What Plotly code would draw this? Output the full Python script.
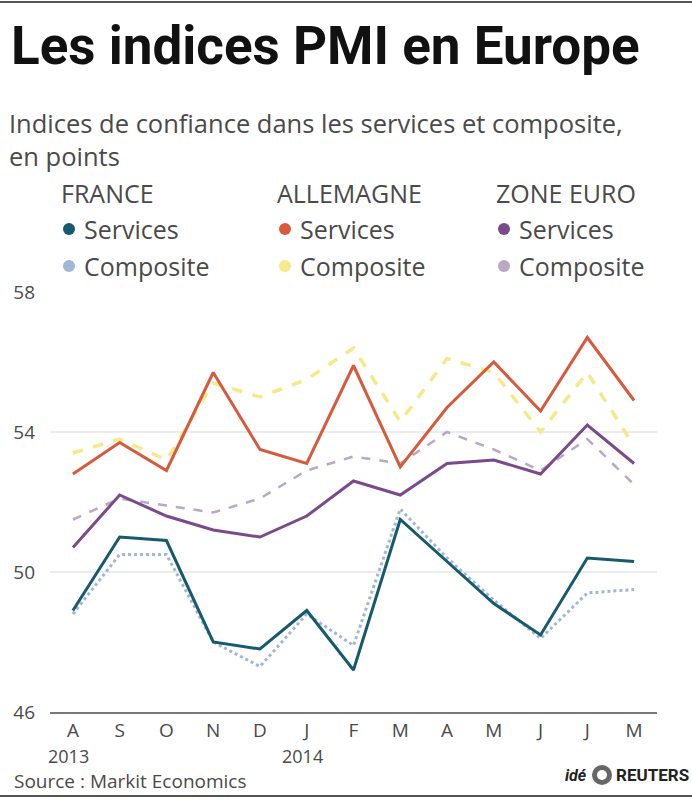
import plotly.graph_objects as go

months = ["A", "S", "O", "N", "D", "J", "F", "M", "A", "M", "J", "J", "M"]
years = {0: "2013", 5: "2014"}

fr_services = [48.9, 51.0, 50.9, 48.0, 47.8, 48.9, 47.2, 51.5, 50.3, 49.1, 48.2, 50.4, 50.3]
fr_composite = [48.8, 50.5, 50.5, 48.0, 47.3, 48.8, 47.9, 51.8, 50.4, 49.2, 48.1, 49.4, 49.5]
de_services = [52.8, 53.7, 52.9, 55.7, 53.5, 53.1, 55.9, 53.0, 54.7, 56.0, 54.6, 56.7, 54.9]
de_composite = [53.4, 53.8, 53.2, 55.4, 55.0, 55.5, 56.4, 54.3, 56.1, 55.7, 54.0, 55.7, 53.6]
ez_services = [50.7, 52.2, 51.6, 51.2, 51.0, 51.6, 52.6, 52.2, 53.1, 53.2, 52.8, 54.2, 53.1]
ez_composite = [51.5, 52.1, 51.9, 51.7, 52.1, 52.9, 53.3, 53.1, 54.0, 53.5, 52.9, 53.8, 52.5]

C_FR_S = "#175a6e"
C_FR_C = "#a3b6d3"
C_DE_S = "#d85a3d"
C_DE_C = "#f6e98a"
C_EZ_S = "#7b4a8b"
C_EZ_C = "#b9a8c6"
GREY = "#4a4a4a"

W, H = 692, 800
ML, MR, MT, MB = 50, 35, 292, 88
PW, PH = W - ML - MR, H - MT - MB


def px(x):
    return (x - ML) / PW


def py(y):
    return (H - MB - y) / PH


x = list(range(len(months)))
fig = go.Figure()

series = [
    (de_composite, C_DE_C, "dash", 3.5),
    (ez_composite, C_EZ_C, "dash", 2.5),
    (fr_composite, C_FR_C, "dot", 3),
    (de_services, C_DE_S, "solid", 3),
    (ez_services, C_EZ_S, "solid", 3),
    (fr_services, C_FR_S, "solid", 3),
]
for vals, col, dash, wd in series:
    fig.add_trace(go.Scatter(x=x, y=vals, mode="lines",
                             line=dict(color=col, width=wd, dash=dash),
                             showlegend=False, hoverinfo="skip"))

shapes = []
# reference line at 50
shapes.append(dict(type="line", xref="paper", yref="y", x0=0, x1=1, y0=50, y1=50,
                   line=dict(color="#f2c9c9", width=2), layer="below"))
# top and bottom rules
for yy in (2, 796):
    shapes.append(dict(type="line", xref="paper", yref="paper", x0=px(0), x1=px(W),
                       y0=py(yy), y1=py(yy), line=dict(color="#555", width=2)))

annotations = []
FONT = "Open Sans"
annotations.append(dict(text="<b>Les indices PMI en Europe</b>", x=px(9), y=py(46),
                        xref="paper", yref="paper", xanchor="left", yanchor="middle",
                        showarrow=False, font=dict(family="Roboto", size=53, color="#111")))
annotations.append(dict(text="Indices de confiance dans les services et composite,<br>en points",
                        x=px(7), y=py(104), xref="paper", yref="paper", xanchor="left", yanchor="top",
                        align="left", showarrow=False,
                        font=dict(family=FONT, size=25.5, color=GREY)))

groups = [
    ("FRANCE", 62, C_FR_S, C_FR_C),
    ("ALLEMAGNE", 278, C_DE_S, C_DE_C),
    ("ZONE EURO", 497, C_EZ_S, C_EZ_C),
]
for name, gx, cs, cc in groups:
    annotations.append(dict(text=name, x=px(gx - 3), y=py(193), xref="paper", yref="paper",
                            xanchor="left", yanchor="middle", showarrow=False,
                            font=dict(family=FONT, size=25, color=GREY)))
    for lab, col, yy in (("Services", cs, 229), ("Composite", cc, 266)):
        annotations.append(dict(text=lab, x=px(gx + 20), y=py(yy), xref="paper", yref="paper",
                                xanchor="left", yanchor="middle", showarrow=False,
                                font=dict(family=FONT, size=25, color=GREY)))
        shapes.append(dict(type="circle", xref="paper", yref="paper",
                           x0=px(gx + 1), x1=px(gx + 13), y0=py(yy + 6), y1=py(yy - 6),
                           fillcolor=col, line=dict(width=0)))

for i, yr in years.items():
    annotations.append(dict(text=yr, x=i, y=py(756), xref="x", yref="paper",
                            xanchor="center", xshift=-4, yanchor="middle", showarrow=False,
                            font=dict(family=FONT, size=18, color=GREY)))

annotations.append(dict(text="Source : Markit Economics", x=px(12), y=py(781),
                        xref="paper", yref="paper", xanchor="left", yanchor="middle",
                        showarrow=False, font=dict(family=FONT, size=19, color=GREY)))
annotations.append(dict(text="<b><i>idé</i></b>", x=px(589), y=py(775),
                        xref="paper", yref="paper", xanchor="right", yanchor="middle",
                        showarrow=False, font=dict(family="Roboto", size=16, color="#222")))
annotations.append(dict(text="<b>REUTERS</b>", x=px(691), y=py(775),
                        xref="paper", yref="paper", xanchor="right", yanchor="middle",
                        showarrow=False, font=dict(family="Roboto", size=17, color="#222")))
shapes.append(dict(type="circle", xref="paper", yref="paper",
                   x0=px(592), x1=px(612), y0=py(785), y1=py(765),
                   fillcolor="#666", line=dict(width=0)))
shapes.append(dict(type="circle", xref="paper", yref="paper",
                   x0=px(597), x1=px(607), y0=py(780), y1=py(770),
                   fillcolor="white", line=dict(width=0)))

fig.update_layout(
    width=W, height=H, margin=dict(l=ML, r=MR, t=MT, b=MB),
    paper_bgcolor="white", plot_bgcolor="white",
    shapes=shapes, annotations=annotations,
    font=dict(family=FONT, color=GREY),
    xaxis=dict(range=[-0.49, 12.49], tickvals=x, ticktext=months, showgrid=False,
               zeroline=False, showline=True, linecolor="#777", linewidth=2,
               ticks="", tickfont=dict(family=FONT, size=19, color=GREY), fixedrange=True),
    yaxis=dict(range=[46, 58], tickvals=[46, 50, 54, 58], ticktext=["46", "50", "54", "58"],
               showgrid=True, gridcolor="#ececec", gridwidth=2, zeroline=False,
               ticks="", ticklabelstandoff=14, tickfont=dict(family=FONT, size=19, color=GREY),
               fixedrange=True),
)

fig.write_html("out.html")
